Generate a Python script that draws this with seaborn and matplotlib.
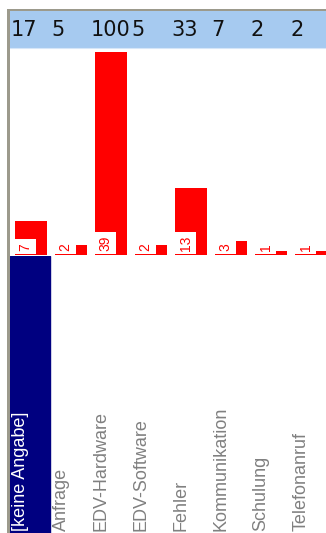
import matplotlib
matplotlib.use("Agg")
import matplotlib.pyplot as plt
import seaborn as sns
from matplotlib.patches import Rectangle

# data
categories = ["[keine Angabe]", "Anfrage", "EDV-Hardware", "EDV-Software",
              "Fehler", "Kommunikation", "Schulung", "Telefonanruf"]
counts = [7, 2, 39, 2, 13, 3, 1, 1]
percent = [17, 5, 100, 5, 33, 7, 2, 2]

sns.set_style("white")
plt.rcParams["font.family"] = ["Liberation Sans", "DejaVu Sans"]

W, H = 326, 533
fig = plt.figure(figsize=(W / 100, H / 100), dpi=100)

# each column is 40px wide, first column starts at x=10px
x0 = -0.525
x1 = x0 + (W - 10) / 40

# top band with the percentages
band = fig.add_axes([10 / W, 1 - 48 / H, (W - 10) / W, 37 / H])
band.set_facecolor("#a6caf0")
band.set_xlim(x0, x1)
band.set_ylim(0, 1)
band.set_xticks([])
band.set_yticks([])
for s in band.spines.values():
    s.set_visible(False)
band.spines["bottom"].set_visible(True)
band.spines["bottom"].set_color("#d6e6f8")
for i, p in enumerate(percent):
    band.text(i - 0.5, 0.5, str(p), ha="left", va="center", fontsize=15,
              color="#111111", family=["Liberation Sans Narrow", "DejaVu Sans"])

# bars
ax = fig.add_axes([10 / W, 1 - 255 / H, (W - 10) / W, 206 / H])
sns.barplot(x=categories, y=percent, ax=ax, color="#ff0000", saturation=1,
            width=0.8, errorbar=None, edgecolor="none")
ax.set_xlim(x0, x1)
ax.set_ylim(0, 101.7)
ax.axis("off")
for bar, c in zip(ax.patches, counts):
    ax.annotate(str(c), xy=(bar.get_x(), 0), xytext=(2.6, 3.2),
                textcoords="offset points", rotation=90, ha="left", va="bottom",
                fontsize=10, color="#ff0000",
                bbox=dict(boxstyle="square,pad=0.25", facecolor="white", edgecolor="none"))

# category labels
lab = fig.add_axes([10 / W, 0, (W - 10) / W, (H - 256) / H])
lab.set_xlim(x0, x1)
lab.set_ylim(0, 1)
lab.axis("off")
lab.axvspan(x0, x0 + 1, color="#000080")
for i, name in enumerate(categories):
    lab.text(i - 0.25, 0.007, name, rotation=90, ha="center", va="bottom",
             fontsize=13, color="white" if i == 0 else "#808080")

# window frame
fig.add_artist(Rectangle((7 / W, 0), 3 / W, (H - 9) / H, transform=fig.transFigure,
                         facecolor="#9c9a8c", edgecolor="none"))
fig.add_artist(Rectangle((7 / W, 1 - 11 / H), (W - 7) / W, 2 / H, transform=fig.transFigure,
                         facecolor="#9c9a8c", edgecolor="none"))

plt.savefig("out.png", dpi=100)
